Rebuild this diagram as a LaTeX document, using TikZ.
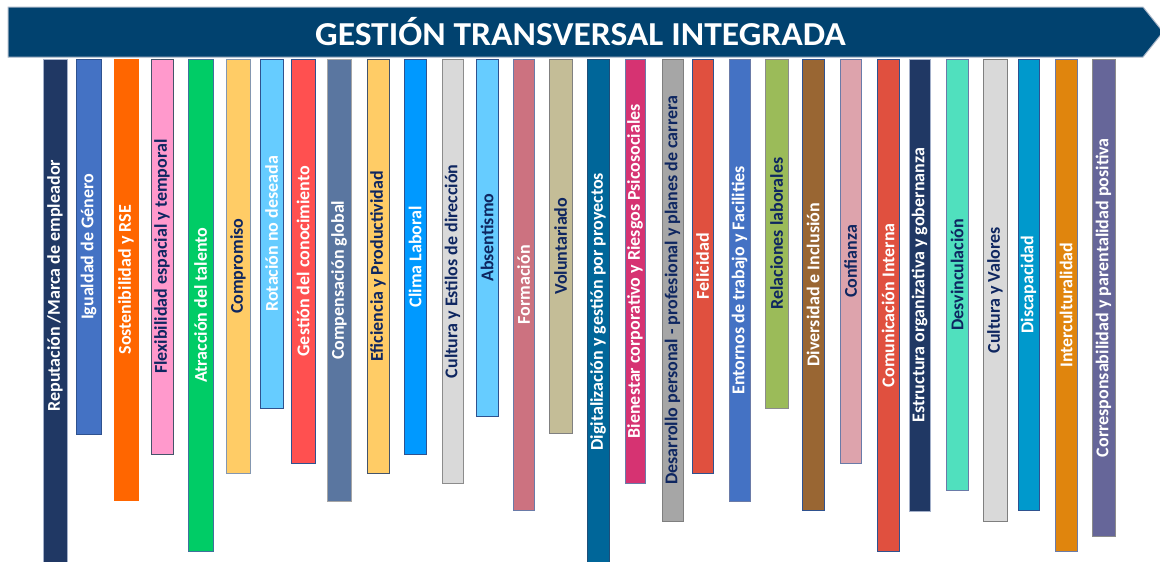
\documentclass[tikz,border=0pt]{standalone}
\usepackage{fontspec}
\setmainfont{Carlito}
\newfontfamily\titlefont{Carlito}[FakeStretch=1.06]
\definecolor{banner}{HTML}{01426F}
\definecolor{bannerline}{HTML}{A9B6C8}
\definecolor{navytext}{HTML}{0E2660}
\tikzset{
  barbox/.style={rectangle, inner sep=0pt, outer sep=0pt, line width=0.8pt},
  barlabel/.style={rotate=90, inner sep=0pt, font=\bfseries\fontsize{18}{18}\selectfont},
  titlelabel/.style={inner sep=0pt, text=white, font=\titlefont\bfseries\fontsize{33.5}{33.5}\selectfont}
}
\newcommand{\mkbar}[9]{%
  \definecolor{#1fill}{HTML}{#5}%
  \definecolor{#1line}{HTML}{#6}%
  \node[barbox, fill=#1fill, draw=#1line, minimum width={#3-#2}, minimum height={#4-59.5}, anchor=north west] (#1) at (#2,59.5) {};
  \node[yshift=#8, barlabel, text=#7] (#1t) at (#1.center) {#9};
}
\begin{document}
\begin{tikzpicture}[x=1pt,y=-1pt]
\useasboundingbox (0,0) rectangle (1160,562);
\fill[white] (0,0) rectangle (1160,562);
% banner arrow
\draw[fill=banner, draw=bannerline, line width=1pt]
  (8,7) -- (1143,7) -- (1163,32) -- (1143,57) -- (8,57) -- cycle;
\coordinate (bannerc) at (580.5,32);
\node[titlelabel] (title) at (bannerc) {GESTIÓN TRANSVERSAL INTEGRADA};
% bars
\mkbar{ba}{43}{67}{564}{203864}{A3B0CA}{white}{26pt}{Reputación /Marca de empleador}
\mkbar{bb}{76}{101}{434}{4472C4}{2F528F}{white}{0pt}{Igualdad de Género}
\mkbar{bc}{114}{138}{500}{FF6600}{FF6600}{white}{0pt}{Sostenibilidad y RSE}
\mkbar{bd}{151}{173}{454}{FF99CC}{44546A}{navytext}{0pt}{Flexibilidad espacial y temporal}
\mkbar{be}{188}{213}{551}{00CC66}{41719C}{white}{0pt}{Atracción del talento}
\mkbar{bf}{226}{250}{473}{FFCC66}{8497B0}{navytext}{0pt}{Compromiso}
\mkbar{bg}{260}{283}{408}{66CCFF}{2F528F}{white}{0pt}{Rotación no deseada}
\mkbar{bh}{291}{315}{463}{FF5050}{2F528F}{white}{0pt}{Gestión del conocimiento}
\mkbar{bi}{327}{351}{501}{5A76A0}{A6A6A6}{white}{0pt}{Compensación global}
\mkbar{bj}{367}{389}{473}{FFCC66}{44546A}{navytext}{0pt}{Eficiencia y Productividad}
\mkbar{bk}{404}{426}{454}{0099FF}{2F528F}{white}{0pt}{Clima Laboral}
\mkbar{bl}{442}{463}{483}{D9D9D9}{8C8C8C}{navytext}{0pt}{Cultura y Estilos de dirección}
\mkbar{bm}{476}{498}{416}{66CCFF}{2F528F}{navytext}{0pt}{Absentismo}
\mkbar{bn}{513}{534}{510}{CC7280}{6A7BA8}{white}{0pt}{Formación}
\mkbar{bo}{549}{572}{433}{C4BD97}{808080}{navytext}{0pt}{Voluntariado}
\mkbar{bp}{587}{609}{564}{006699}{1F4E79}{white}{0pt}{Digitalización y gestión por proyectos}
\mkbar{bq}{625}{645}{483}{D63372}{6A7BA8}{white}{0pt}{Bienestar corporativo y Riesgos Psicosociales}
\mkbar{br}{662}{683}{521}{A6A6A6}{7F7F7F}{navytext}{0pt}{Desarrollo personal - profesional y planes de carrera}
\mkbar{bs}{692}{713}{473}{E0503F}{2F528F}{white}{0pt}{Felicidad}
\mkbar{bt}{729}{750}{501}{4472C4}{6A7BA8}{white}{0pt}{Entornos de trabajo y Facilities}
\mkbar{bu}{765}{788}{408}{9BBB59}{8C8C8C}{navytext}{0pt}{Relaciones laborales}
\mkbar{bv}{802}{824}{510}{996633}{2F528F}{white}{0pt}{Diversidad e Inclusión}
\mkbar{bw}{840}{861}{463}{DDA3AC}{6A7BA8}{navytext}{0pt}{Confianza}
\mkbar{bx}{877}{899}{551}{E0503F}{2F528F}{white}{0pt}{Comunicación Interna}
\mkbar{by}{909}{930}{511}{203864}{A3B0CA}{white}{0pt}{Estructura organizativa y gobernanza}
\mkbar{bz}{946}{968}{490}{50E0BE}{6A7BA8}{navytext}{0pt}{Desvinculación}
\mkbar{ca}{983}{1007}{521}{D9D9D9}{7F7F7F}{navytext}{0pt}{Cultura y Valores}
\mkbar{cb}{1018}{1039}{510}{0099CC}{2F528F}{white}{0pt}{Discapacidad}
\mkbar{cc}{1055}{1077}{551}{E0850D}{6A7BA8}{white}{0pt}{Interculturalidad}
\mkbar{cd}{1092}{1115}{536}{666699}{8C8C8C}{white}{0pt}{Corresponsabilidad y parentalidad positiva}
\end{tikzpicture}
\end{document}
